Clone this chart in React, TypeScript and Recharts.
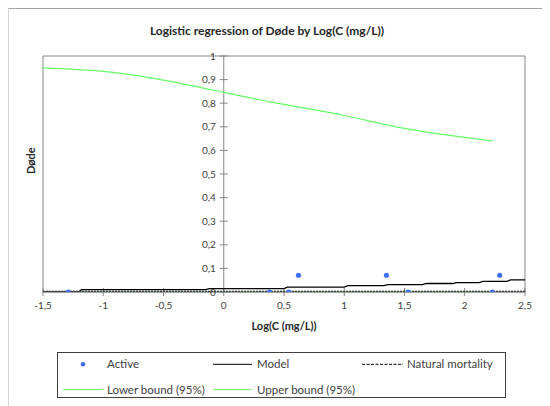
import React from 'react';
import {
  ComposedChart,
  Line,
  Scatter,
  XAxis,
  YAxis,
  ReferenceLine,
  ReferenceArea,
  Legend,
} from 'recharts';

const xTicks = [-1.5, -1, -0.5, 0, 0.5, 1, 1.5, 2, 2.5];
const yTicks = [0, 0.1, 0.2, 0.3, 0.4, 0.5, 0.6, 0.7, 0.8, 0.9, 1];

const activeX = [-1.29, 0.38, 0.54, 0.62, 1.35, 1.53, 2.23, 2.29];
const activeY = [0, 0, 0, 0.071, 0.071, 0, 0, 0.071];

const modelX = [-1.5, -1.2, -1.18, -0.15, -0.12, 0.5, 0.53, 1.0, 1.03, 1.33, 1.36, 1.65, 1.68, 1.9, 1.93, 2.12, 2.15, 2.35, 2.38, 2.5];
const modelY = [0.002, 0.002, 0.01, 0.01, 0.0145, 0.0145, 0.021, 0.021, 0.027, 0.027, 0.031, 0.031, 0.036, 0.036, 0.04, 0.04, 0.045, 0.045, 0.051, 0.051];

const naturalX = [-1.5, 2.5];
const naturalY = [0.001, 0.001];

const boundX = [-1.5, -1.0, -0.5, 0, 0.5, 1.0, 1.5, 2.0, 2.23];
const upperY = [0.95, 0.935, 0.898, 0.846, 0.795, 0.748, 0.693, 0.655, 0.64];
const lowerY = [0.0, 0.0, 0.0, 0.0, 0.0005, 0.001, 0.001, 0.001, 0.001];

const activeData = activeX.map((x, i) => ({ x, y: activeY[i] }));
const modelData = modelX.map((x, i) => ({ x, y: modelY[i] }));
const naturalData = naturalX.map((x, i) => ({ x, y: naturalY[i] }));
const upperData = boundX.map((x, i) => ({ x, y: upperY[i] }));
const lowerData = boundX.map((x, i) => ({ x, y: lowerY[i] }));

const FONT = 'Lato, "Open Sans", sans-serif';
const GREY = '#868686';
const TEXT = '#404040';
const BLUE = '#3f6ef2';
const GREEN = '#66ff66';

const fmt = (v: number) => String(v).replace('.', ',');

const LegendBox = () => (
  <svg width={449} height={46} style={{ display: 'block', fontFamily: FONT }}>
    <rect x={0.5} y={0.5} width={448} height={45} fill="#fff" stroke="#404040" strokeWidth={1} />
    <circle cx={26} cy={12.3} r={2.3} fill={BLUE} />
    <text x={50} y={16.3} fontSize={11.5} fill={TEXT}>Active</text>
    <line x1={156} x2={195} y1={12.3} y2={12.3} stroke="#000" strokeWidth={1} />
    <text x={200} y={16.3} fontSize={11.5} fill={TEXT}>Model</text>
    <line x1={305} x2={346} y1={12.3} y2={12.3} stroke="#000" strokeWidth={1} strokeDasharray="3 1.5" />
    <text x={350} y={16.3} fontSize={11.5} fill={TEXT}>Natural mortality</text>
    <line x1={6} x2={46} y1={37.6} y2={37.6} stroke={GREEN} strokeWidth={1} />
    <text x={50} y={41.6} fontSize={11.5} fill={TEXT}>Lower bound (95%)</text>
    <line x1={156} x2={195} y1={37.6} y2={37.6} stroke={GREEN} strokeWidth={1} />
    <text x={200} y={41.6} fontSize={11.5} fill={TEXT}>Upper bound (95%)</text>
  </svg>
);

export default function App() {
  return (
    <div
      style={{
        position: 'relative',
        width: 541,
        height: 397,
        borderTop: '1px solid #a6a6a6',
        borderLeft: '1px solid #d6d6d6',
        fontFamily: FONT,
        background: '#fff',
      }}
    >
      <div
        style={{
          position: 'absolute',
          left: 0,
          width: 516,
          top: 14,
          textAlign: 'center',
          fontSize: 12,
          fontWeight: 'bold',
          color: '#262626',
          fontFamily: FONT,
        }}
      >
        Logistic regression of Døde by Log(C (mg/L))
      </div>
      <ComposedChart
        width={541}
        height={397}
        margin={{ top: 47, right: 25, bottom: 28, left: 0 }}
        style={{ fontFamily: FONT }}
      >
        <XAxis
          type="number"
          dataKey="x"
          domain={[-1.5, 2.5]}
          ticks={xTicks}
          allowDataOverflow
          tickFormatter={fmt}
          height={40}
          stroke={GREY}
          tickSize={4}
          tickMargin={6}
          tick={{ fill: TEXT, fontSize: 10 }}
          label={{
            value: 'Log(C (mg/L))',
            position: 'insideBottom',
            offset: 2,
            fill: '#262626',
            fontSize: 11,
            fontWeight: 'bold',
          }}
        />
        <YAxis
          type="number"
          domain={[0, 1]}
          ticks={yTicks}
          width={34}
          tick={false}
          tickLine={false}
          axisLine={false}
          allowDataOverflow
          label={{
            value: 'Døde',
            angle: -90,
            position: 'insideLeft',
            dx: 17,
            fill: '#262626',
            fontSize: 11,
            fontWeight: 'bold',
          }}
        />
        <ReferenceArea x1={-1.5} x2={2.5} y1={0} y2={1} fill="none" stroke={GREY} strokeWidth={1} />
        <ReferenceLine x={0} stroke={GREY} strokeWidth={1} />
        {yTicks.map((v) => (
          <ReferenceLine
            key={'yt' + v}
            segment={[
              { x: -0.033, y: v },
              { x: 0.033, y: v },
            ]}
            stroke={GREY}
            strokeWidth={1}
            label={{ value: fmt(v), position: 'left', offset: 4, fill: TEXT, fontSize: 10 }}
          />
        ))}
        {xTicks.map((v) => (
          <ReferenceLine
            key={'xt' + v}
            segment={[
              { x: v, y: 0 },
              { x: v, y: 0.017 },
            ]}
            stroke={GREY}
            strokeWidth={1}
          />
        ))}
        <Line
          data={lowerData}
          dataKey="y"
          type="monotone"
          stroke={GREEN}
          strokeWidth={1.2}
          dot={false}
          isAnimationActive={false}
          name="Lower bound (95%)"
        />
        <Line
          data={upperData}
          dataKey="y"
          type="natural"
          stroke={GREEN}
          strokeWidth={1.2}
          dot={false}
          isAnimationActive={false}
          name="Upper bound (95%)"
        />
        <Line
          data={naturalData}
          dataKey="y"
          type="linear"
          stroke="#000"
          strokeWidth={2}
          strokeDasharray="2 1"
          dot={false}
          isAnimationActive={false}
          name="Natural mortality"
        />
        <Line
          data={modelData}
          dataKey="y"
          type="linear"
          stroke="#000"
          strokeWidth={1.3}
          dot={false}
          isAnimationActive={false}
          name="Model"
        />
        <Scatter
          data={activeData}
          dataKey="y"
          fill={BLUE}
          isAnimationActive={false}
          name="Active"
          shape={(p: any) => <circle cx={p.cx} cy={p.cy} r={2.6} fill={BLUE} />}
        />
        <Legend
          verticalAlign="bottom"
          content={() => <LegendBox />}
          wrapperStyle={{ position: 'absolute', left: 47.7, top: 342.7, bottom: 'auto', width: 449, height: 46 }}
        />
      </ComposedChart>
    </div>
  );
}
